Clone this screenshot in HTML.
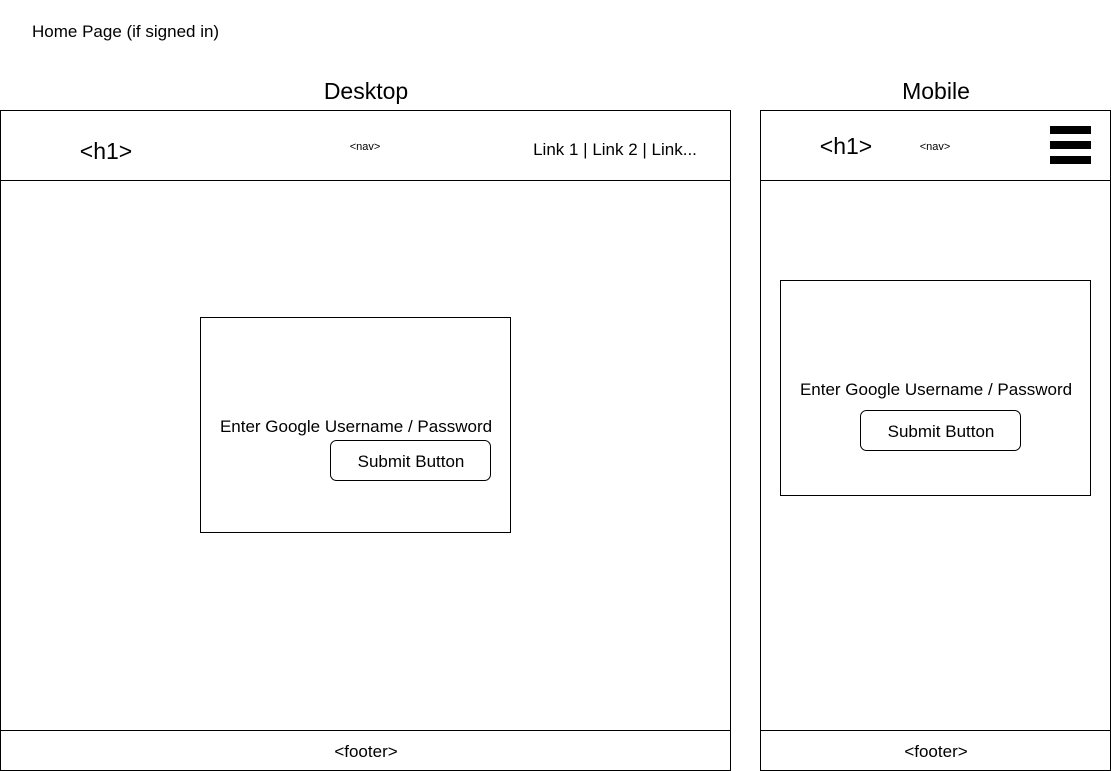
<!DOCTYPE html>
<html><head><style>html,body{margin:0;padding:0;background:#fff}svg{display:block}text{font-family:"Liberation Sans",Helvetica,Arial,sans-serif;fill:#000}</style></head>
<body>
<svg width="1111" height="771" viewBox="0 0 1111 771" xmlns="http://www.w3.org/2000/svg">
<g fill="none" stroke="#000" stroke-width="1">
<rect x="0.5" y="110.5" width="730" height="660"/>
<line x1="0" y1="180.5" x2="731" y2="180.5"/>
<line x1="0" y1="730.5" x2="731" y2="730.5"/>
<rect x="200.5" y="317.5" width="310" height="215"/>
<rect x="330.5" y="440.5" width="160" height="40" rx="6"/>
<rect x="760.5" y="110.5" width="350" height="660"/>
<line x1="760" y1="180.5" x2="1111" y2="180.5"/>
<line x1="760" y1="730.5" x2="1111" y2="730.5"/>
<rect x="780.5" y="280.5" width="310" height="215"/>
<rect x="860.5" y="410.5" width="160" height="40" rx="6"/>
</g>
<rect x="1050" y="126" width="41" height="8"/>
<rect x="1050" y="141" width="41" height="8"/>
<rect x="1050" y="156" width="41" height="8"/>
<text x="32" y="37" font-size="17">Home Page (if signed in)</text>
<text x="366" y="99" font-size="23" text-anchor="middle">Desktop</text>
<text x="936" y="99" font-size="23" text-anchor="middle">Mobile</text>
<text x="106" y="159" font-size="23" text-anchor="middle">&lt;h1&gt;</text>
<text x="365" y="150" font-size="11" text-anchor="middle">&lt;nav&gt;</text>
<text x="615" y="155" font-size="17" text-anchor="middle">Link 1 | Link 2 | Link...</text>
<text x="356" y="432" font-size="17" text-anchor="middle">Enter Google Username / Password</text>
<text x="411" y="467" font-size="17" text-anchor="middle">Submit Button</text>
<text x="366" y="757" font-size="17" text-anchor="middle">&lt;footer&gt;</text>
<text x="846" y="154" font-size="23" text-anchor="middle">&lt;h1&gt;</text>
<text x="935" y="150" font-size="11" text-anchor="middle">&lt;nav&gt;</text>
<text x="936" y="395" font-size="17" text-anchor="middle">Enter Google Username / Password</text>
<text x="941" y="437" font-size="17" text-anchor="middle">Submit Button</text>
<text x="936" y="757" font-size="17" text-anchor="middle">&lt;footer&gt;</text>
</svg>
</body></html>
